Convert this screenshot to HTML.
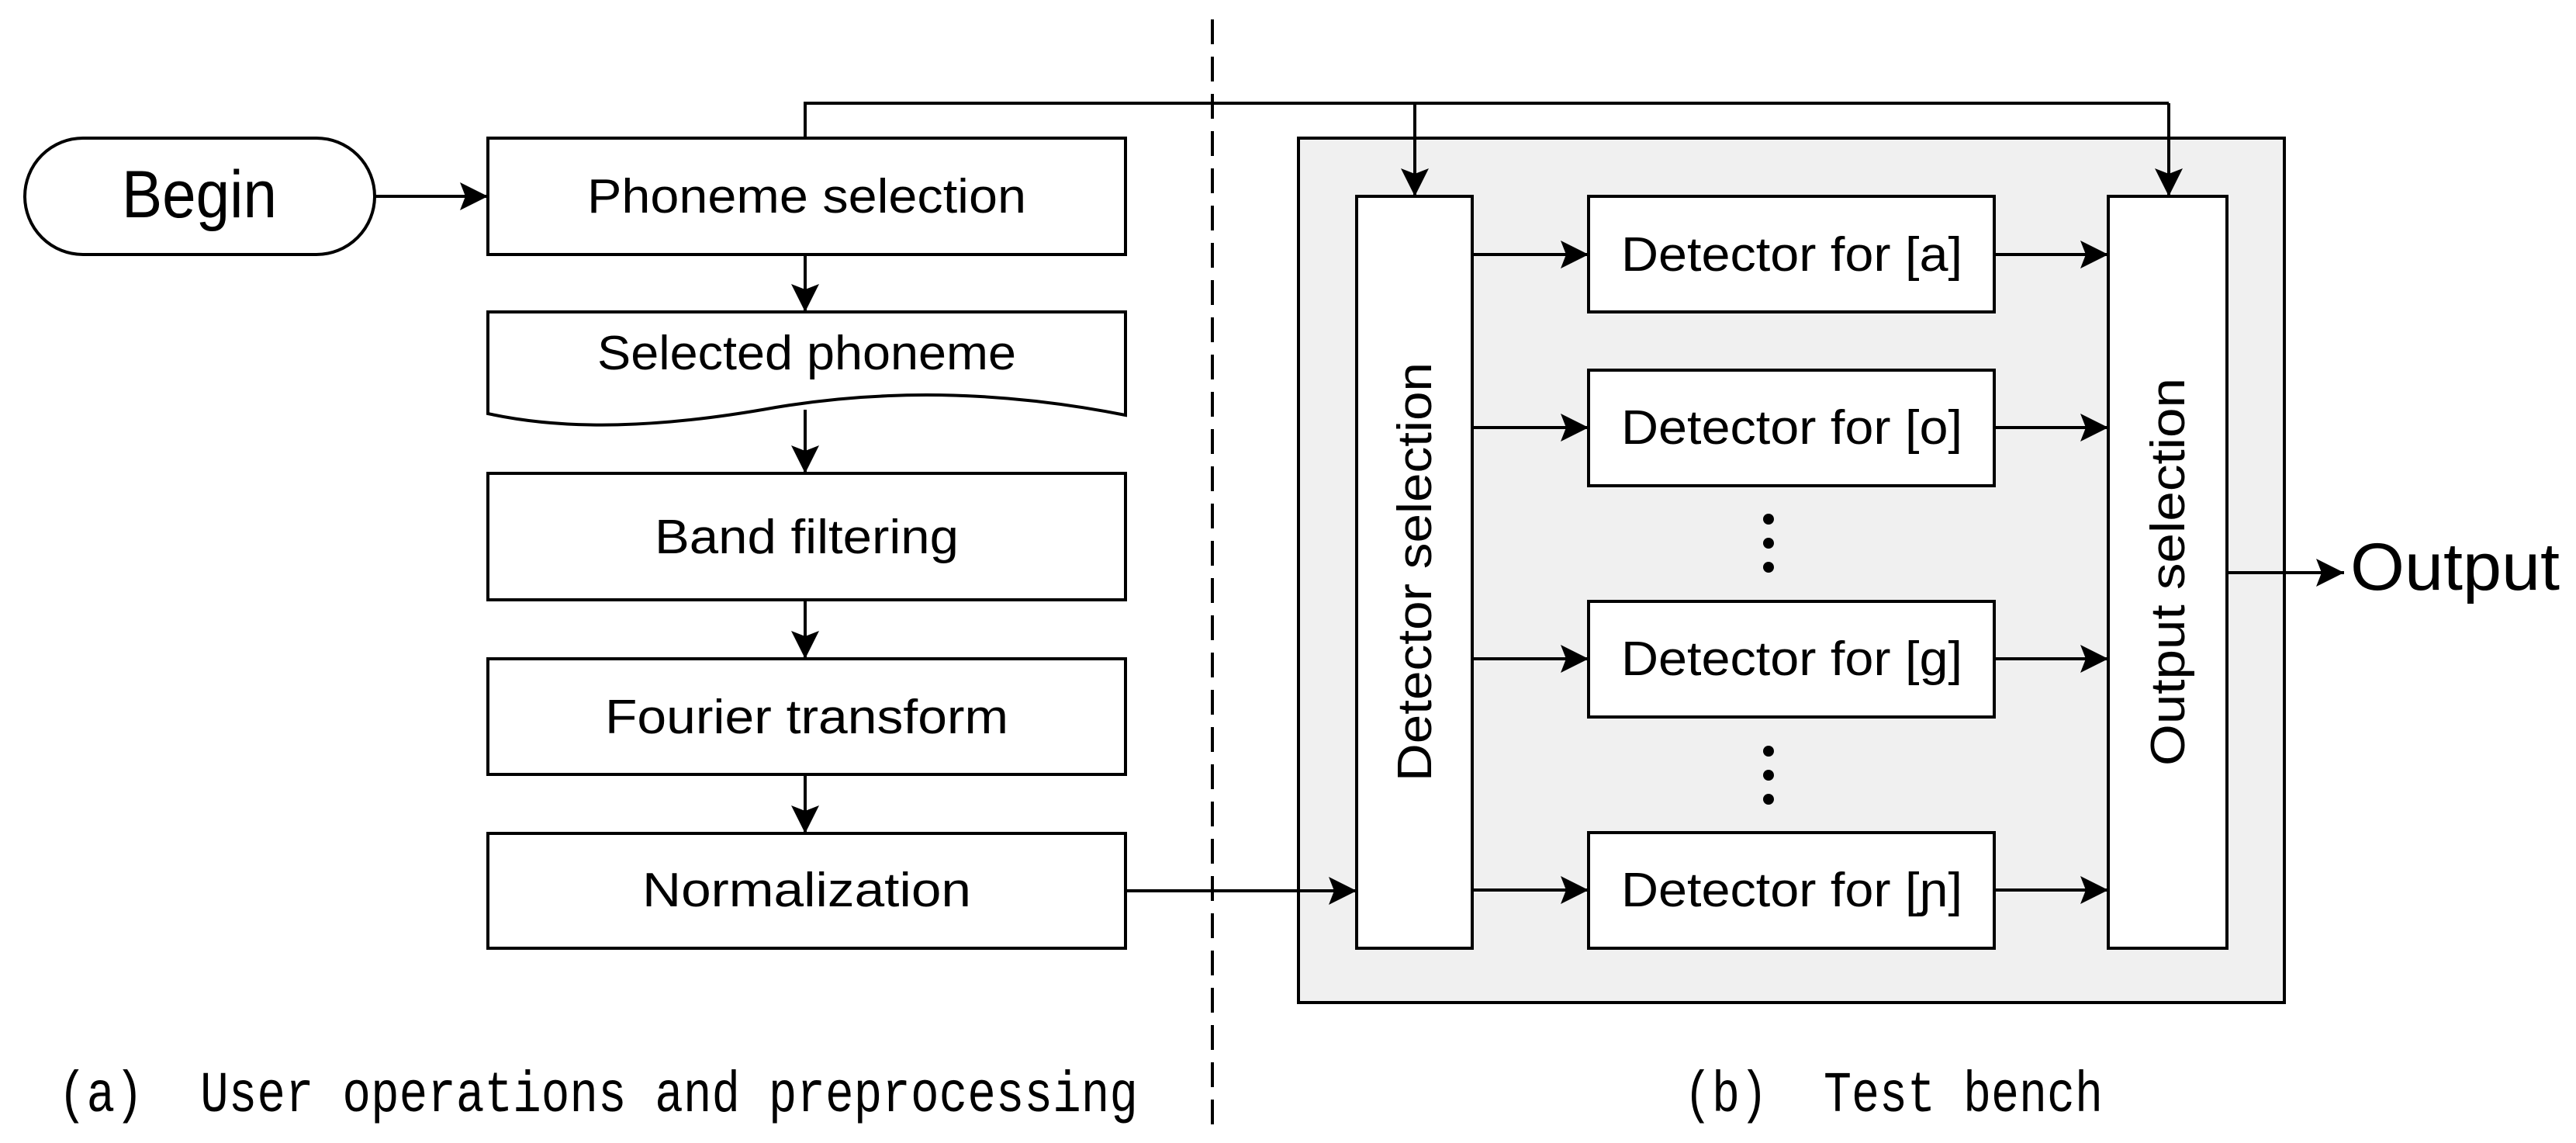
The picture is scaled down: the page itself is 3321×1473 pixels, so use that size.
<!DOCTYPE html>
<html><head><meta charset="utf-8"><style>
html,body{margin:0;padding:0;background:#fff}
svg{display:block}
text{font-family:"Liberation Sans",sans-serif;fill:#000}
.m{font-family:"Liberation Mono",monospace}
</style></head><body>
<svg width="3321" height="1473" viewBox="0 0 3321 1473" xmlns="http://www.w3.org/2000/svg">
<defs>
<marker id="a" viewBox="0 0 36 36" refX="36" refY="18" markerWidth="36" markerHeight="36" markerUnits="userSpaceOnUse" orient="auto">
<path d="M0,0 L36,18 L0,36 L7,18 Z" fill="#000"/>
</marker>
</defs>
<g stroke="#000" stroke-width="4" fill="none">
<line x1="1563" y1="25" x2="1563" y2="1455" stroke-dasharray="32,16"/>
<rect x="1674" y="178" width="1271" height="1114" fill="#f0f0f0"/>
<rect x="32" y="178" width="451" height="150" rx="75" fill="#fff"/>
<rect x="629" y="178" width="822" height="150" fill="#fff"/>
<path d="M629,402 H1451 V535 C1300,505 1150,500 1000,525 C850,552 730,555 629,533 Z" fill="#fff"/>
<rect x="629" y="610" width="822" height="163" fill="#fff"/>
<rect x="629" y="849" width="822" height="149" fill="#fff"/>
<rect x="629" y="1074" width="822" height="148" fill="#fff"/>
<rect x="1749" y="253" width="149" height="969" fill="#fff"/>
<rect x="2718" y="253" width="153" height="969" fill="#fff"/>
<rect x="2048" y="253" width="523" height="149" fill="#fff"/>
<rect x="2048" y="477" width="523" height="149" fill="#fff"/>
<rect x="2048" y="775" width="523" height="149" fill="#fff"/>
<rect x="2048" y="1073" width="523" height="149" fill="#fff"/>
<line x1="483" y1="253" x2="629" y2="253" marker-end="url(#a)"/>
<line x1="1038" y1="328" x2="1038" y2="402" marker-end="url(#a)"/>
<line x1="1038" y1="528" x2="1038" y2="610" marker-end="url(#a)"/>
<line x1="1038" y1="773" x2="1038" y2="849" marker-end="url(#a)"/>
<line x1="1038" y1="998" x2="1038" y2="1074" marker-end="url(#a)"/>
<polyline points="1038,178 1038,133 2796,133"/>
<line x1="1824" y1="133" x2="1824" y2="253" marker-end="url(#a)"/>
<line x1="2796" y1="133" x2="2796" y2="253" marker-end="url(#a)"/>
<line x1="1451" y1="1148" x2="1749" y2="1148" marker-end="url(#a)"/>
<line x1="1898" y1="328" x2="2048" y2="328" marker-end="url(#a)"/>
<line x1="1898" y1="551" x2="2048" y2="551" marker-end="url(#a)"/>
<line x1="1898" y1="849" x2="2048" y2="849" marker-end="url(#a)"/>
<line x1="1898" y1="1147" x2="2048" y2="1147" marker-end="url(#a)"/>
<line x1="2571" y1="328" x2="2718" y2="328" marker-end="url(#a)"/>
<line x1="2571" y1="551" x2="2718" y2="551" marker-end="url(#a)"/>
<line x1="2571" y1="849" x2="2718" y2="849" marker-end="url(#a)"/>
<line x1="2571" y1="1147" x2="2718" y2="1147" marker-end="url(#a)"/>
<line x1="2871" y1="738" x2="3022" y2="738" marker-end="url(#a)"/>
</g>
<g fill="#000">
<circle cx="2280" cy="669" r="7"/><circle cx="2280" cy="700" r="7"/><circle cx="2280" cy="731" r="7"/>
<circle cx="2280" cy="968" r="7"/><circle cx="2280" cy="999" r="7"/><circle cx="2280" cy="1030" r="7"/>
</g>
<g font-size="62" text-anchor="middle">
<text x="257" y="280" font-size="86" textLength="200" lengthAdjust="spacingAndGlyphs">Begin</text>
<text x="1040" y="274" textLength="566" lengthAdjust="spacingAndGlyphs">Phoneme selection</text>
<text x="1040" y="476" textLength="540" lengthAdjust="spacingAndGlyphs">Selected phoneme</text>
<text x="1040" y="713" textLength="392" lengthAdjust="spacingAndGlyphs">Band filtering</text>
<text x="1040" y="945" textLength="520" lengthAdjust="spacingAndGlyphs">Fourier transform</text>
<text x="1040" y="1168" textLength="424" lengthAdjust="spacingAndGlyphs">Normalization</text>
<text x="2310" y="349" textLength="440" lengthAdjust="spacingAndGlyphs">Detector for [a]</text>
<text x="2310" y="572" textLength="440" lengthAdjust="spacingAndGlyphs">Detector for [o]</text>
<text x="2310" y="870" textLength="440" lengthAdjust="spacingAndGlyphs">Detector for [g]</text>
<text x="2310" y="1168" textLength="440" lengthAdjust="spacingAndGlyphs">Detector for [ɲ]</text>
<text transform="translate(1845,737) rotate(-90)" textLength="540" lengthAdjust="spacingAndGlyphs">Detector selection</text>
<text transform="translate(2816,737) rotate(-90)" textLength="500" lengthAdjust="spacingAndGlyphs">Output selection</text>
</g>
<text x="3030" y="760" font-size="86" textLength="270" lengthAdjust="spacingAndGlyphs">Output</text>
<text class="m" x="75" y="1432" font-size="74" textLength="1392" lengthAdjust="spacingAndGlyphs">(a)&#160;&#160;User operations and preprocessing</text>
<text class="m" x="2171" y="1432" font-size="74" textLength="540" lengthAdjust="spacingAndGlyphs">(b)&#160;&#160;Test bench</text>
</svg>
</body></html>
